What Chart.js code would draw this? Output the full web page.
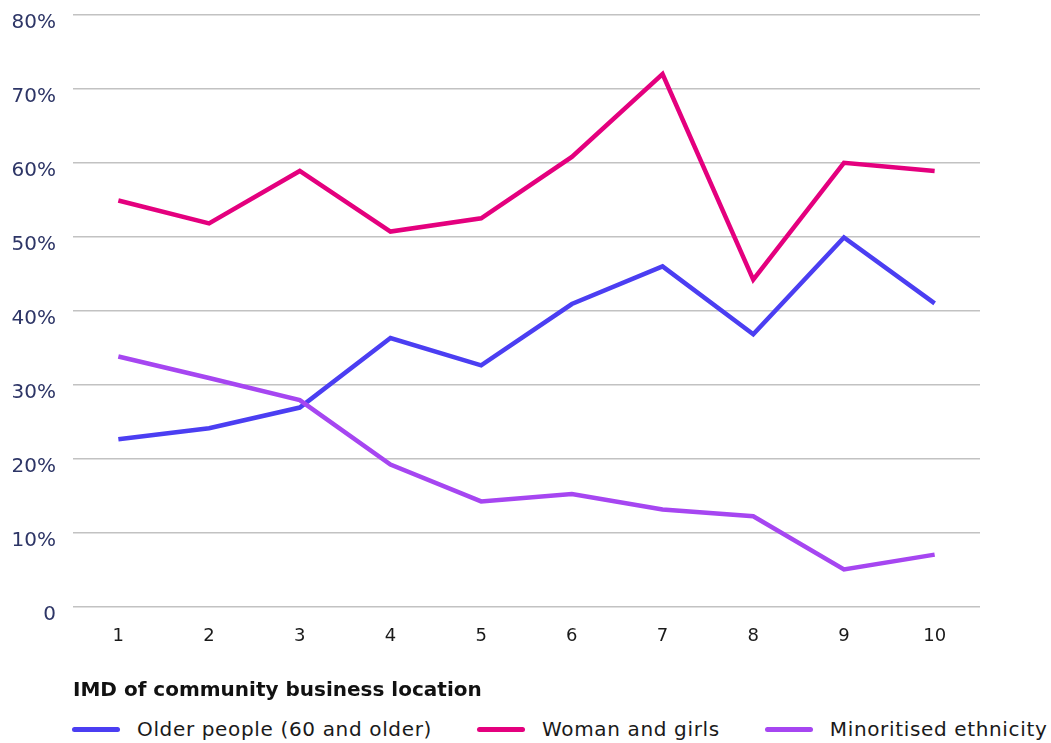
<!DOCTYPE html>
<html>
<head>
<meta charset="utf-8">
<script src="https://cdn.jsdelivr.net/npm/chart.js@4.4.1/dist/chart.umd.min.js"></script>
<style>
  html, body { margin: 0; padding: 0; background: #fff; }
  #wrap { position: relative; width: 1051px; height: 743px; font-family: "DejaVu Sans", sans-serif; overflow: hidden; }
  #box { position: absolute; left: 0; top: 0; width: 1051px; height: 703px; }
  #legend { position: absolute; left: 72px; top: 717px; display: flex; align-items: center; white-space: nowrap; font-size: 20px; letter-spacing: 0.65px; color: #1a1a1a; }
  .item { display: flex; align-items: center; flex: none; margin-right: 45px; }
  .swatch { width: 48px; height: 5px; border-radius: 3px; margin-right: 17px; }
</style>
</head>
<body>
<div id="wrap">
  <div id="box"><canvas id="imdChart"></canvas></div>
  <div id="legend"></div>
</div>
<script>
// IMD decile of the community business location
const imdLabels = ['1', '2', '3', '4', '5', '6', '7', '8', '9', '10'];

// share of businesses serving each group (%)
const olderPeople = [22.6, 24.1, 26.9, 36.3, 32.6, 40.9, 46.0, 36.8, 49.9, 41.0];
const womenGirls  = [54.9, 51.8, 58.9, 50.7, 52.5, 60.8, 72.0, 44.2, 60.0, 58.9];
const minoritised = [33.8, 30.9, 27.9, 19.2, 14.2, 15.2, 13.1, 12.2, 5.0, 7.0];

const seriesNames = ['Older people (60 and older)', 'Woman and girls', 'Minoritised ethnicity'];
const seriesColors = ['#4b3ef2', '#e4007e', '#a646f1'];
const yTicks = [0, 10, 20, 30, 40, 50, 60, 70, 80];

const FONT = '"DejaVu Sans", sans-serif';

const datasets = [olderPeople, womenGirls, minoritised].map((d, i) => ({
  label: seriesNames[i],
  data: d,
  borderColor: seriesColors[i],
  backgroundColor: seriesColors[i],
  borderWidth: 4.5,
  pointRadius: 0,
  tension: 0,
  // purple sits on top where the lines cross
  order: i === 2 ? 0 : 1
}));

new Chart(document.getElementById('imdChart'), {
  type: 'line',
  data: { labels: imdLabels, datasets },
  options: {
    responsive: true,
    maintainAspectRatio: false,
    animation: false,
    layout: { padding: { top: 15, right: 71, left: 0, bottom: 0 } },
    plugins: {
      legend: { display: false },
      tooltip: { enabled: false }
    },
    scales: {
      x: {
        offset: true,
        grid: { display: false },
        border: { display: false },
        ticks: { color: '#1a1a1a', font: { family: FONT, size: 18 }, padding: 11 },
        title: {
          display: true,
          align: 'start',
          text: 'IMD of community business location',
          color: '#111',
          font: { family: FONT, size: 20, weight: 'bold' },
          padding: { top: 21, bottom: 0 }
        }
      },
      y: {
        min: 0, max: 80,
        afterFit: (s) => { s.width = 73; s.paddingTop = 0; s.paddingBottom = 0; },
        afterBuildTicks: (s) => { s.ticks = yTicks.map(v => ({ value: v })); },
        grid: { color: '#c2c2c2', lineWidth: 1.5, drawTicks: false },
        border: { display: false },
        ticks: {
          color: '#2d3566',
          font: { family: FONT, size: 20 },
          padding: 17,
          labelOffset: 8,
          callback: (v) => v === 0 ? '0' : v + '%'
        }
      }
    }
  }
});

// legend row under the axis title
const legend = document.getElementById('legend');
seriesNames.forEach((name, i) => {
  const item = document.createElement('div');
  item.className = 'item';
  item.innerHTML = '<span class="swatch" style="background:' + seriesColors[i] + '"></span><span>' + name + '</span>';
  legend.appendChild(item);
});
</script>
</body>
</html>
